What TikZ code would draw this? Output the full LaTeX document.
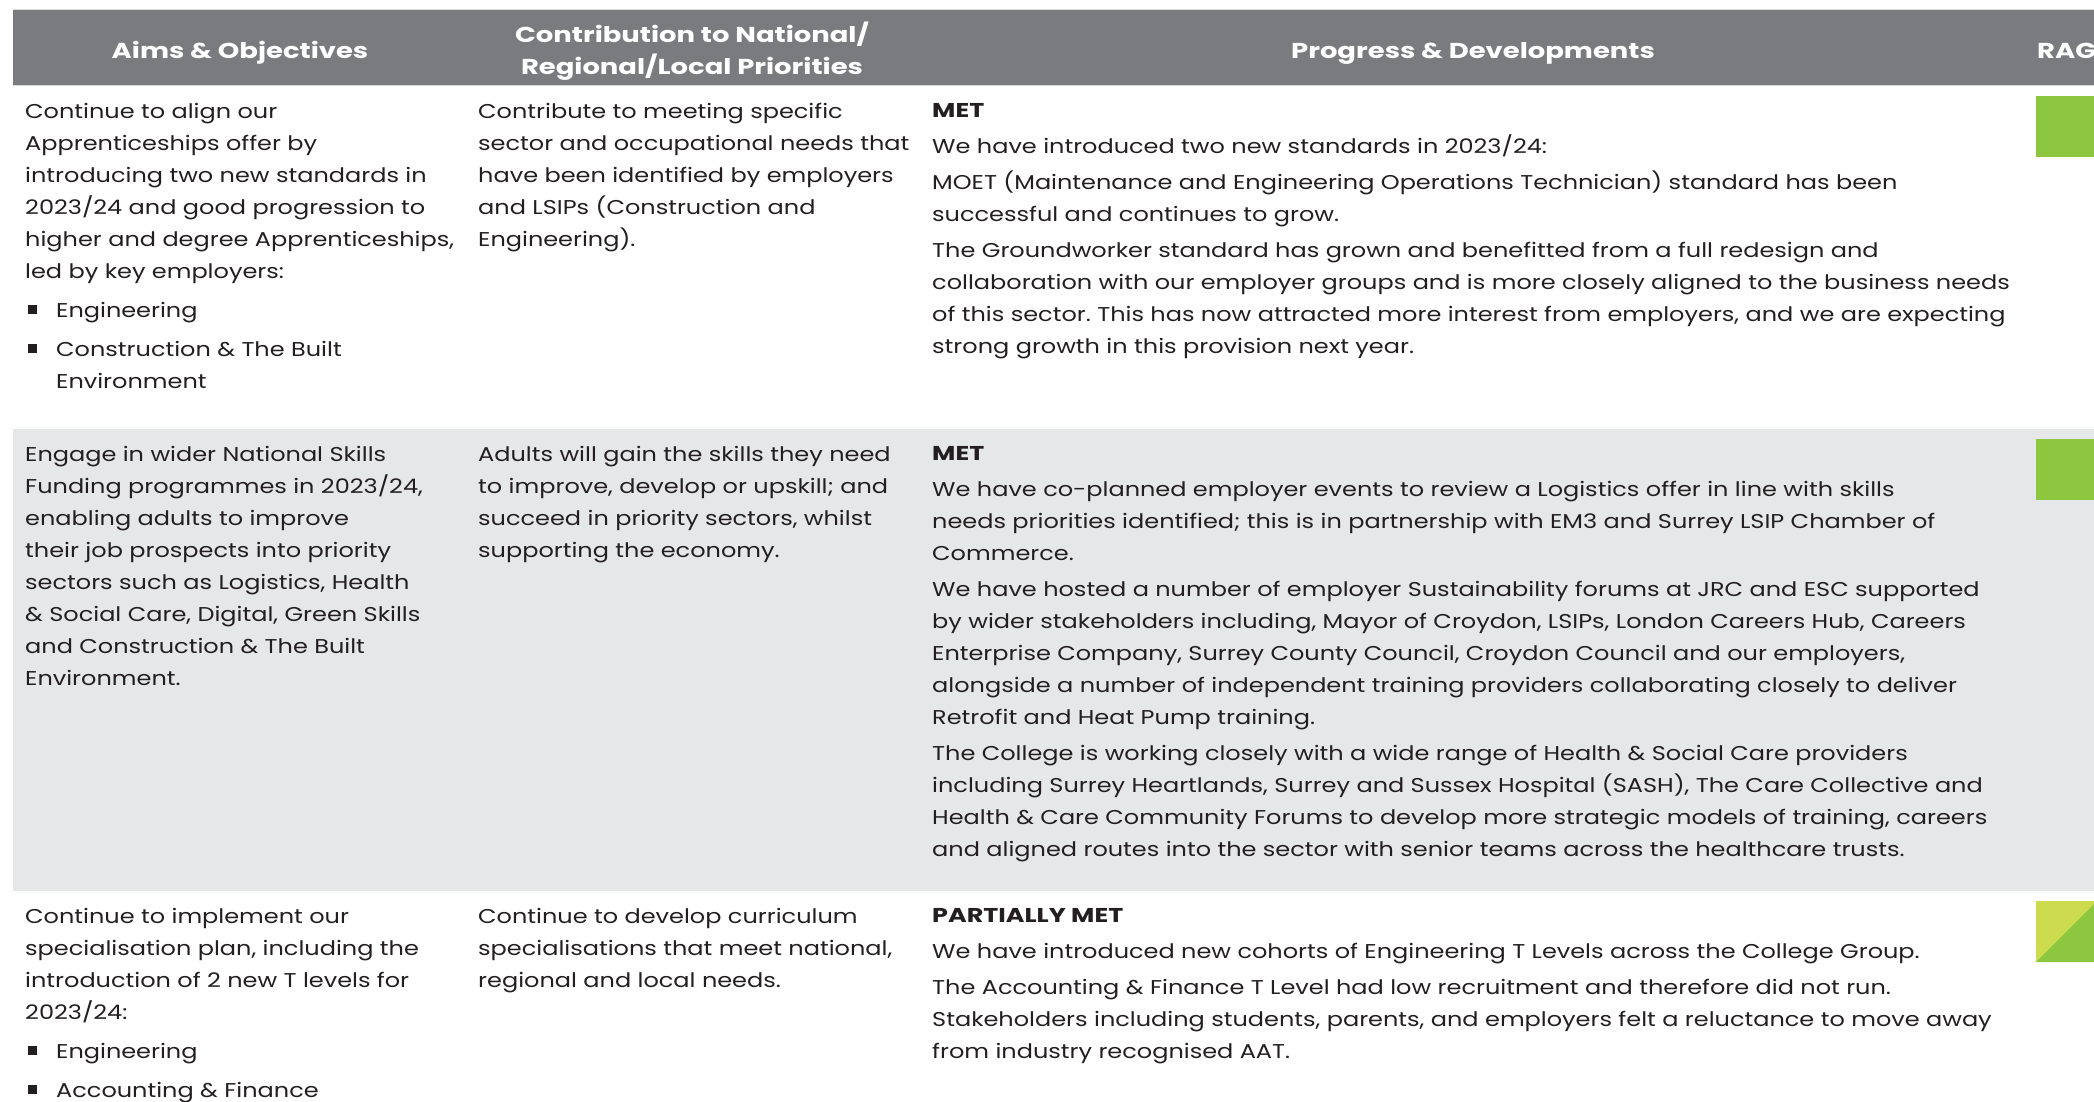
\documentclass[tikz,border=0pt]{standalone}
\usepackage{fontspec}
\setmainfont{Poppins}[FakeStretch=1.2, BoldFeatures={FakeStretch=1.27}]
\usetikzlibrary{positioning}
\definecolor{headgray}{HTML}{7A7B7F}
\definecolor{rowgray}{HTML}{E6E7E8}
\definecolor{raggreen}{HTML}{8DC63F}
\definecolor{ragpart}{HTML}{CDDC4F}
\definecolor{bodytext}{HTML}{231F20}
\newcommand{\sqbullet}{\hspace*{3pt}\rule[3pt]{9pt}{9pt}\hspace{19pt}}
\newcommand{\cellstrut}{\rule{0pt}{24pt}}
\frenchspacing

\begin{document}
\begin{tikzpicture}[x=1pt,y=-1pt,
    cell/.style={anchor=north west, align=left, inner sep=0pt, text=bodytext, font=\fontsize{20}{32}\selectfont, execute at begin node=\cellstrut},
    head/.style={anchor=base, align=center, inner sep=0pt, text=white, font=\bfseries\fontsize{21.6}{32}\selectfont}]
            \useasboundingbox (0,0) rectangle (2094,1101);
            \clip (0,0) rectangle (2094,1101);
            \fill[headgray] (13,9) rectangle (2100,85);
            \draw[gray!30] (13,9) -- (2100,9) (13,85) -- (2100,85);
            \fill[rowgray] (13,429) rectangle (2100,891);

            \node[head] (hAims) at (240,58) {Aims \& Objectives};
            \node[head] (hContrib) at (692,74) {Contribution to National/\\Regional/Local Priorities};
            \node[head] (hProgress) at (1473,58) {Progress \& Developments};
            \node[head, anchor=base west] (hRag) at (2037,58) {RAG};

            % first row
            \node[cell] (aimsA) at (25,103) {Continue to align our\\Apprenticeships offer by\\introducing two new standards in\\2023/24 and good progression to\\higher and degree Apprenticeships,\\led by key employers:\\[7pt]\sqbullet Engineering\\[7pt]\sqbullet Construction \& The Built\\\hspace*{31pt}Environment};
            \node[cell] (contribA) at (478,103) {Contribute to meeting specific\\sector and occupational needs that\\have been identified by employers\\and LSIPs (Construction and\\Engineering).};
            \node[cell] (progA) at (932,103) {\textbf{MET}\\[4pt]We have introduced two new standards in 2023/24:\\[4pt]MOET (Maintenance and Engineering Operations Technician) standard has been\\successful and continues to grow.\\[4pt]The Groundworker standard has grown and benefitted from a full redesign and\\collaboration with our employer groups and is more closely aligned to the business needs\\of this sector. This has now attracted more interest from employers, and we are expecting\\strong growth in this provision next year.};
            \fill[raggreen] (2036,96) rectangle (2100,157);

            % second row
            \node[cell] (aimsB) at (25,446) {Engage in wider National Skills\\Funding programmes in 2023/24,\\enabling adults to improve\\their job prospects into priority\\sectors such as Logistics, Health\\\& Social Care, Digital, Green Skills\\and Construction \& The Built\\Environment.};
            \node[cell] (contribB) at (478,446) {Adults will gain the skills they need\\to improve, develop or upskill; and\\succeed in priority sectors, whilst\\supporting the economy.};
            \node[cell] (progB) at (932,446) {\textbf{MET}\\[4pt]We have co-planned employer events to review a Logistics offer in line with skills\\needs priorities identified; this is in partnership with EM3 and Surrey LSIP Chamber of\\Commerce.\\[4pt]We have hosted a number of employer Sustainability forums at JRC and ESC supported\\by wider stakeholders including, Mayor of Croydon, LSIPs, London Careers Hub, Careers\\Enterprise Company, Surrey County Council, Croydon Council and our employers,\\alongside a number of independent training providers collaborating closely to deliver\\Retrofit and Heat Pump training.\\[4pt]The College is working closely with a wide range of Health \& Social Care providers\\including Surrey Heartlands, Surrey and Sussex Hospital (SASH), The Care Collective and\\Health \& Care Community Forums to develop more strategic models of training, careers\\and aligned routes into the sector with senior teams across the healthcare trusts.};
            \fill[raggreen] (2036,439) rectangle (2100,500);

            % third row
            \node[cell] (aimsC) at (25,908) {Continue to implement our\\specialisation plan, including the\\introduction of 2 new T levels for\\2023/24:\\[7pt]\sqbullet Engineering\\[7pt]\sqbullet Accounting \& Finance};
            \node[cell] (contribC) at (478,908) {Continue to develop curriculum\\specialisations that meet national,\\regional and local needs.};
            \node[cell] (progC) at (932,908) {\textbf{PARTIALLY MET}\\[4pt]We have introduced new cohorts of Engineering T Levels across the College Group.\\[4pt]The Accounting \& Finance T Level had low recruitment and therefore did not run.\\Stakeholders including students, parents, and employers felt a reluctance to move away\\from industry recognised AAT.};
            \fill[ragpart] (2036,901) rectangle (2097,962);
            \fill[raggreen] (2036,962) -- (2097,901) -- (2097,962) -- cycle;
\end{tikzpicture}
\end{document}
